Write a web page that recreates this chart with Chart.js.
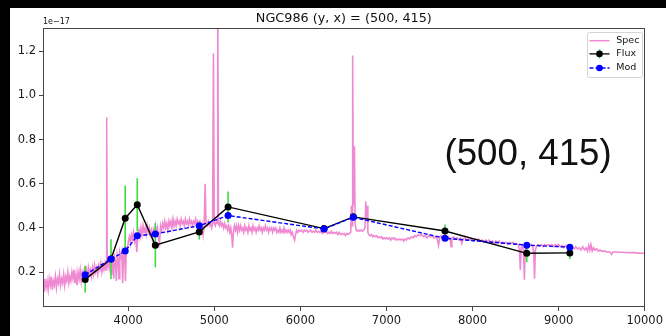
<!DOCTYPE html>
<html><head><meta charset="utf-8">
<script src="https://cdn.jsdelivr.net/npm/chart.js@4/dist/chart.umd.min.js"></script>
<style>
html,body{margin:0;padding:0;background:#000;width:666px;height:336px;overflow:hidden}
#wrap{position:absolute;left:10px;top:8px;width:656px;height:328px;background:#fff}
canvas{display:block}
</style></head><body>
<div id="wrap"><canvas id="c" width="656" height="328"></canvas></div>
<script>
const titleText = 'NGC986 (y, x) = (500, 415)';
const offsetLabel = '1e\u221217';
const annotation = '(500, 415)';
const legendLabels = ['Spec', 'Flux', 'Mod'];
const xTicks = [4000, 5000, 6000, 7000, 8000, 9000, 10000];
const yTicks = [0.2, 0.4, 0.6, 0.8, 1.0, 1.2];

const specWave = [3010,3022,3034,3046,3058,3070,3082,3094,3106,3118,3130,3142,3154,3166,3178,3190,3202,3214,3226,3238,3250,3262,3274,3286,3298,3310,3322,3334,3346,3358,3370,3382,3394,3406,3418,3430,3442,3454,3466,3478,3490,3502,3514,3526,3538,3550,3562,3574,3586,3598,3610,3622,3634,3646,3658,3670,3682,3694,3706,3718,3730,3742,3750,3756,3768,3780,3792,3800,3808,3820,3832,3840,3852,3862,3872,3884,3893,3902,3915,3925,3936,3946,3958,3968,3978,3990,4002,4014,4026,4038,4050,4062,4074,4086,4100,4112,4124,4136,4148,4160,4172,4184,4196,4208,4220,4232,4244,4256,4268,4280,4292,4304,4316,4328,4340,4352,4364,4376,4388,4400,4412,4424,4436,4448,4460,4472,4484,4496,4508,4520,4532,4544,4556,4568,4580,4592,4604,4616,4628,4640,4652,4664,4676,4688,4700,4712,4724,4736,4748,4760,4772,4784,4796,4808,4820,4832,4844,4856,4870,4882,4894,4904,4916,4930,4944,4958,4970,4980,4990,5000,5012,5024,5034,5040,5048,5060,5072,5084,5096,5108,5120,5132,5144,5156,5168,5180,5192,5204,5212,5222,5234,5246,5258,5270,5282,5294,5306,5318,5330,5342,5354,5366,5378,5390,5402,5414,5426,5438,5450,5462,5474,5486,5498,5510,5522,5534,5546,5558,5570,5582,5594,5606,5618,5630,5642,5654,5666,5678,5690,5702,5714,5726,5738,5750,5762,5774,5786,5798,5810,5822,5834,5846,5858,5870,5882,5894,5906,5920,5932,5944,5956,5970,5985,6000,6015,6030,6045,6060,6075,6090,6105,6120,6135,6150,6165,6180,6195,6210,6225,6240,6255,6270,6285,6300,6315,6330,6345,6360,6375,6390,6405,6420,6435,6450,6465,6480,6495,6510,6525,6540,6555,6570,6585,6592,6600,6607,6614,6620,6628,6636,6648,6660,6675,6690,6705,6720,6735,6750,6760,6768,6776,6784,6795,6810,6825,6840,6855,6870,6885,6900,6915,6930,6945,6960,6975,6990,7005,7020,7035,7050,7065,7080,7095,7110,7125,7140,7155,7170,7185,7200,7215,7230,7250,7270,7290,7310,7330,7350,7370,7390,7410,7430,7450,7470,7490,7510,7530,7550,7570,7590,7605,7620,7640,7660,7680,7700,7720,7740,7750,7760,7780,7800,7820,7840,7860,7875,7890,7910,7930,7950,7970,7990,8010,8030,8050,8070,8090,8110,8130,8150,8170,8190,8210,8230,8250,8270,8290,8310,8330,8350,8370,8390,8410,8430,8450,8470,8490,8510,8530,8545,8555,8565,8580,8592,8602,8612,8630,8650,8665,8680,8700,8712,8720,8730,8745,8760,8780,8800,8820,8840,8860,8880,8900,8920,8940,8960,8980,9000,9020,9040,9060,9080,9100,9120,9140,9160,9180,9200,9220,9240,9260,9280,9300,9320,9335,9350,9362,9375,9390,9405,9420,9440,9460,9480,9500,9520,9540,9560,9580,9600,9615,9630,9660,9700,9740,9780,9820,9860,9900,9940,9980,10000];
const specFlux = [.15,.11,.17,.13,.16,.12,.17,.14,.18,.12,.16,.14,.18,.13,.17,.15,.19,.14,.17,.15,.19,.14,.18,.16,.2,.15,.18,.16,.2,.17,.21,.15,.19,.14,.2,.17,.21,.16,.2,.18,.21,.17,.21,.18,.22,.19,.21,.18,.22,.19,.23,.2,.22,.19,.23,.21,.24,.2,.23,.21,.24,.21,.9,.22,.25,.22,.26,.19,.27,.25,.17,.27,.25,.16,.28,.26,.17,.29,.27,.29,.15,.28,.3,.16,.31,.3,.34,.36,.33,.37,.35,.38,.34,.36,.29,.37,.39,.36,.4,.37,.41,.38,.4,.37,.41,.38,.4,.37,.39,.35,.39,.37,.41,.38,.4,.35,.33,.41,.39,.42,.4,.43,.4,.42,.39,.43,.41,.43,.4,.44,.41,.43,.41,.44,.42,.43,.41,.44,.42,.43,.41,.44,.42,.43,.41,.44,.42,.43,.41,.43,.42,.44,.41,.43,.42,.43,.41,.42,.37,.41,.6,.42,.41,.43,.41,.42,.4,.42,1.19,.42,.41,.43,.42,1.5,.42,.41,.43,.41,.42,.4,.42,.4,.41,.39,.41,.38,.4,.36,.31,.38,.41,.39,.41,.38,.41,.39,.41,.39,.4,.38,.41,.39,.4,.38,.41,.39,.4,.38,.41,.39,.4,.38,.4,.39,.41,.39,.4,.38,.4,.39,.41,.39,.4,.38,.4,.39,.4,.38,.4,.39,.4,.38,.39,.38,.4,.38,.39,.38,.4,.38,.39,.38,.39,.38,.39,.37,.38,.36,.345,.37,.39,.38,.39,.385,.39,.38,.39,.385,.39,.38,.385,.39,.38,.385,.38,.39,.38,.385,.38,.385,.375,.385,.38,.385,.375,.38,.375,.385,.375,.38,.375,.38,.37,.38,.37,.375,.37,.375,.365,.375,.37,.375,.38,.5,.41,1.18,.62,.5,.77,.42,.39,.385,.39,.385,.39,.385,.39,.4,.52,.44,.5,.38,.37,.365,.37,.36,.365,.36,.365,.355,.36,.355,.36,.35,.355,.35,.355,.35,.355,.345,.355,.35,.355,.345,.35,.345,.35,.345,.35,.34,.35,.345,.355,.35,.36,.355,.365,.36,.37,.365,.37,.36,.365,.355,.365,.36,.365,.355,.36,.35,.32,.36,.365,.355,.36,.355,.36,.345,.315,.355,.36,.35,.355,.345,.355,.33,.35,.355,.345,.35,.345,.35,.34,.35,.345,.35,.34,.345,.335,.345,.34,.345,.335,.34,.33,.34,.335,.34,.33,.335,.33,.335,.325,.335,.33,.335,.325,.33,.325,.3,.21,.31,.32,.29,.165,.3,.32,.325,.32,.325,.315,.28,.17,.3,.32,.325,.32,.325,.315,.325,.32,.325,.32,.325,.315,.325,.32,.325,.315,.32,.31,.32,.315,.32,.31,.315,.305,.315,.305,.31,.3,.315,.3,.31,.295,.32,.3,.325,.295,.31,.3,.305,.295,.3,.295,.295,.295,.29,.292,.29,.28,.29,.292,.29,.29,.289,.288,.288,.287,.286,.285,.285];

const bandWave = [3500, 3800, 3965, 4105, 4315, 4825, 5160, 6275, 6615, 7680, 8630, 9130];
const fluxVals = [0.167, 0.259, 0.444, 0.505, 0.322, 0.382, 0.495, 0.397, 0.450, 0.386, 0.285, 0.287];
const fluxErr  = [0.061, 0.090, 0.148, 0.120, 0.100, 0.035, 0.070, 0.010, 0.015, 0.030, 0.040, 0.028];
const modVals  = [0.188, 0.259, 0.295, 0.364, 0.373, 0.410, 0.456, 0.395, 0.448, 0.353, 0.322, 0.313];

const PINK = '#ef8ad2', GREEN = '#3ddc3d', BLUE = '#0000ff', BLACK = '#000000';

const specData = specWave.map((w, i) => ({x: w, y: specFlux[i]}));
const fluxData = bandWave.map((w, i) => ({x: w, y: fluxVals[i]}));
const modData = bandWave.map((w, i) => ({x: w, y: modVals[i]}));
const errData = [];
bandWave.forEach((w, i) => {
  errData.push({x: w, y: fluxVals[i] - fluxErr[i]});
  errData.push({x: w, y: fluxVals[i] + fluxErr[i]});
  errData.push({x: w, y: null});
});

const decor = {
  id: 'decor',
  afterDraw(chart) {
    const {ctx, chartArea: a} = chart;
    ctx.save();
    ctx.strokeStyle = '#444'; ctx.lineWidth = 1;
    ctx.strokeRect(Math.round(a.left) + 0.5, Math.round(a.top) + 0.5,
                   Math.round(a.right - a.left) - 1, Math.round(a.bottom - a.top) - 1);
    ctx.fillStyle = '#111';
    ctx.font = '12.8px "DejaVu Sans"';
    ctx.textAlign = 'center'; ctx.textBaseline = 'middle';
    ctx.fillText(titleText, (a.left + a.right) / 2, 10.5);
    ctx.font = '8px "DejaVu Sans"';
    ctx.textAlign = 'left';
    ctx.fillText(offsetLabel, a.left, 13.5);
    ctx.font = '36.7px "Liberation Sans"';
    ctx.textBaseline = 'alphabetic';
    ctx.fillText(annotation, 434.5, 157.3);
    const bx = 577, by = 24, bw = 55, bh = 45;
    ctx.beginPath();
    ctx.roundRect(bx + 0.5, by + 0.5, bw, bh, 2);
    ctx.fillStyle = 'rgba(255,255,255,0.85)';
    ctx.fill();
    ctx.strokeStyle = '#d4d4d4';
    ctx.stroke();
    const rows = [32.7, 45.9, 60];
    const hx0 = 579.5, hx1 = 599.5, hc = 589.5, tx = 606.3;
    ctx.lineWidth = 1.5;
    ctx.strokeStyle = PINK;
    ctx.beginPath(); ctx.moveTo(hx0, rows[0]); ctx.lineTo(hx1, rows[0]); ctx.stroke();
    ctx.strokeStyle = GREEN;
    ctx.beginPath(); ctx.moveTo(hc, rows[1] - 4.5); ctx.lineTo(hc, rows[1] + 4.5); ctx.stroke();
    ctx.strokeStyle = BLACK;
    ctx.lineWidth = 1.3;
    ctx.beginPath(); ctx.moveTo(hx0, rows[1]); ctx.lineTo(hx1, rows[1]); ctx.stroke();
    ctx.fillStyle = BLACK;
    ctx.beginPath(); ctx.arc(hc, rows[1], 3.3, 0, Math.PI * 2); ctx.fill();
    ctx.strokeStyle = BLUE;
    ctx.setLineDash([4, 2]);
    ctx.beginPath(); ctx.moveTo(hx0, rows[2]); ctx.lineTo(hx1, rows[2]); ctx.stroke();
    ctx.setLineDash([]);
    ctx.fillStyle = BLUE;
    ctx.beginPath(); ctx.arc(hc, rows[2], 3.3, 0, Math.PI * 2); ctx.fill();
    ctx.fillStyle = '#111';
    ctx.font = '9.5px "DejaVu Sans"';
    ctx.textAlign = 'left'; ctx.textBaseline = 'middle';
    legendLabels.forEach((t, i) => ctx.fillText(t, tx, rows[i]));
    ctx.restore();
  }
};

new Chart(document.getElementById('c'), {
  type: 'line',
  data: {
    datasets: [
      {label: 'Mod', data: modData, order: 0, borderColor: BLUE, borderWidth: 1.4,
       borderDash: [4, 2], pointRadius: 3.5, pointBackgroundColor: BLUE, pointBorderWidth: 0,
       pointBorderColor: BLUE, fill: false, tension: 0, clip: 0},
      {label: 'Flux', data: fluxData, order: 1, borderColor: BLACK, borderWidth: 1.4,
       pointRadius: 3.5, pointBackgroundColor: BLACK, pointBorderWidth: 0, pointBorderColor: BLACK,
       fill: false, tension: 0, clip: 0},
      {label: 'err', data: errData, order: 2, borderColor: GREEN, borderWidth: 1.6,
       pointRadius: 0, spanGaps: false, fill: false, tension: 0, clip: 0},
      {label: 'Spec', data: specData, order: 3, borderColor: PINK, borderWidth: 1.6,
       pointRadius: 0, fill: false, tension: 0, clip: 0}
    ]
  },
  options: {
    responsive: false, animation: false, devicePixelRatio: 1,
    layout: {padding: {top: 20, right: 20, left: 0, bottom: 0}},
    plugins: {legend: {display: false}, tooltip: {enabled: false}, title: {display: false}},
    scales: {
      x: {
        type: 'linear', min: 3010, max: 10000,
        afterBuildTicks: s => { s.ticks = xTicks.map(v => ({value: v})); },
        afterFit: s => { s.height = 29; },
        ticks: {color: '#1a1a1a', font: {family: 'DejaVu Sans', size: 11.5}, padding: 3,
                maxRotation: 0, autoSkip: false, callback: v => String(v)},
        grid: {drawOnChartArea: false, drawTicks: true, tickLength: 4, color: '#444'},
        border: {display: false}
      },
      y: {
        type: 'linear', min: 0.042, max: 1.305,
        afterBuildTicks: s => { s.ticks = yTicks.map(v => ({value: v})); },
        afterFit: s => { s.width = 33; },
        ticks: {color: '#1a1a1a', font: {family: 'DejaVu Sans', size: 11.5}, padding: 3,
                autoSkip: false, callback: v => Number(v).toFixed(1)},
        grid: {drawOnChartArea: false, drawTicks: true, tickLength: 4, color: '#444'},
        border: {display: false}
      }
    }
  },
  plugins: [decor]
});
</script>
</body></html>
